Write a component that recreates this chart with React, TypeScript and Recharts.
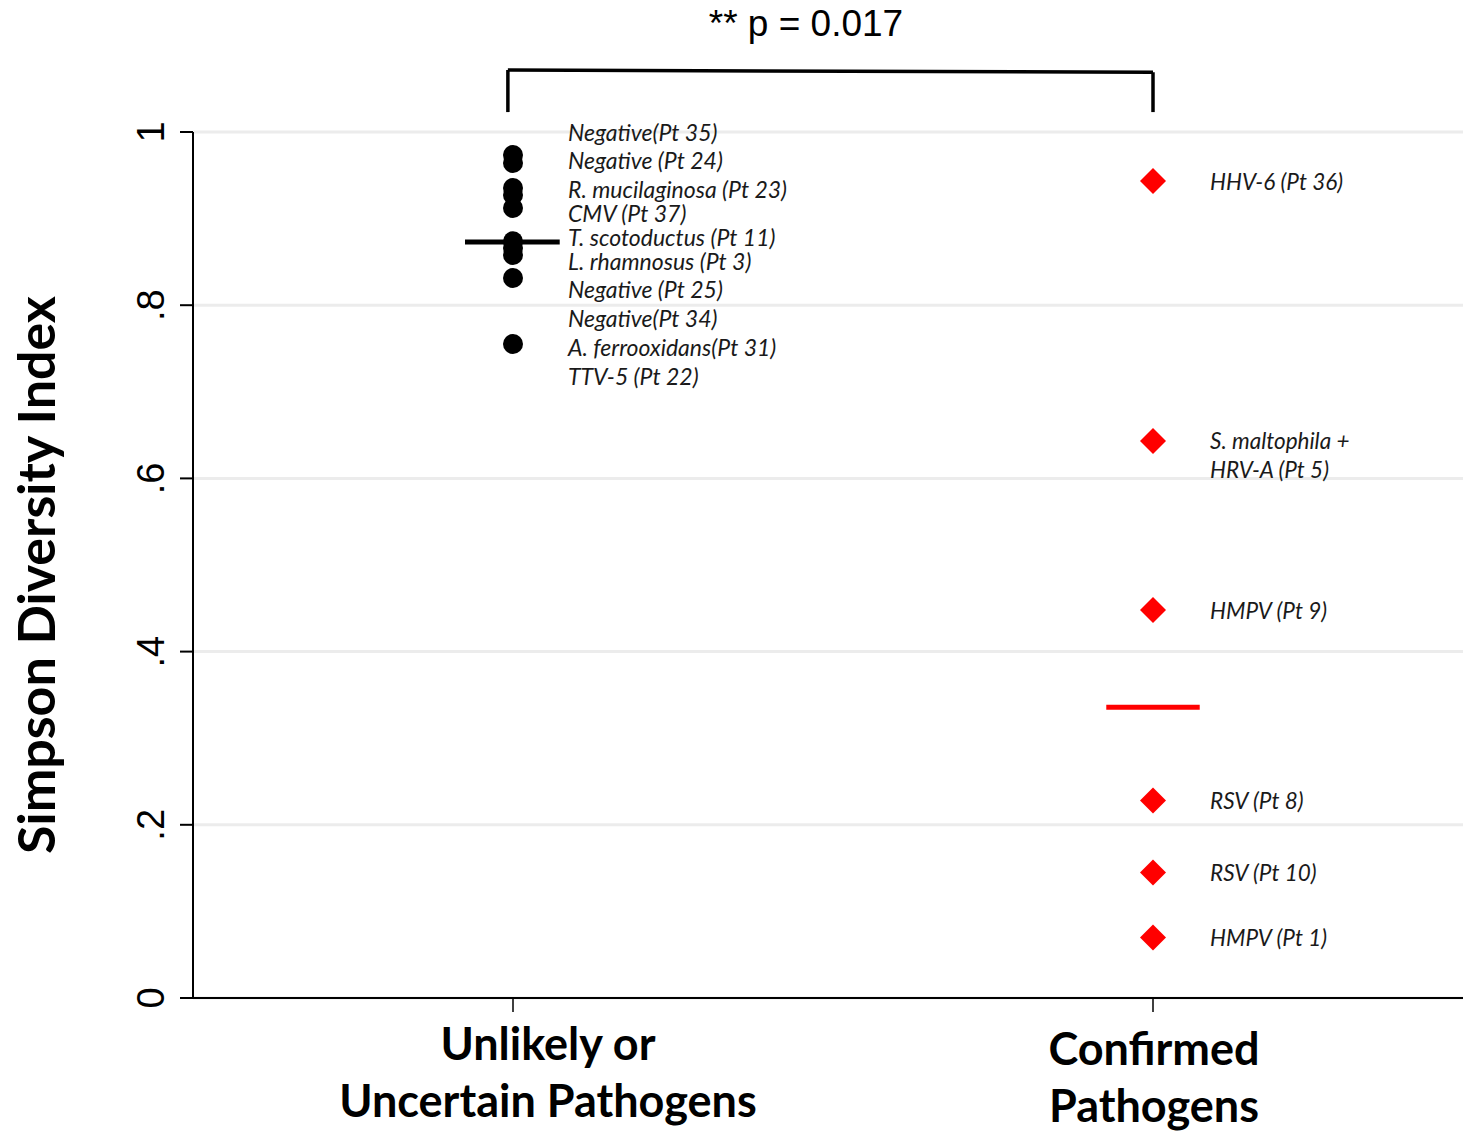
import React from "react";
import {
  ScatterChart,
  Scatter,
  XAxis,
  YAxis,
  CartesianGrid,
  ReferenceLine,
} from "recharts";

// ---- data ----
const categoryTicks = [1, 2];
const categoryLabels = [
  ["Unlikely or", "Uncertain Pathogens"],
  ["Confirmed", "Pathogens"],
];

const yTicks = [0, 0.2, 0.4, 0.6, 0.8, 1];
const yTickLabels = ["0", ".2", ".4", ".6", ".8", "1"];

const unlikelyValues = [0.9734, 0.9642, 0.9353, 0.9273, 0.9122, 0.8738, 0.866, 0.858, 0.8314, 0.7552];
const unlikelyLabels = [
  "Negative(Pt 35)",
  "Negative (Pt 24)",
  "R. mucilaginosa (Pt 23)",
  "CMV (Pt 37)",
  "T. scotoductus (Pt 11)",
  "L. rhamnosus (Pt 3)",
  "Negative (Pt 25)",
  "Negative(Pt 34)",
  "A. ferrooxidans(Pt 31)",
  "TTV-5 (Pt 22)",
];
const unlikelyLabelAnchors = [1.0, 0.9677, 0.9342, 0.9065, 0.8788, 0.851, 0.8187, 0.7852, 0.7517, 0.7182];

const confirmedValues = [0.9434, 0.6432, 0.448, 0.2281, 0.1449, 0.0699];
const confirmedLabels = [
  ["HHV-6 (Pt 36)"],
  ["S. maltophila +", "HRV-A (Pt 5)"],
  ["HMPV (Pt 9)"],
  ["RSV (Pt 8)"],
  ["RSV (Pt 10)"],
  ["HMPV (Pt 1)"],
];

const medians = [0.873, 0.3357];
const pValueText = "** p = 0.017";
const yAxisTitle = "Simpson Diversity Index";

// ---- derived tables ----
const unlikelyData = unlikelyValues.map((y) => ({ x: categoryTicks[0], y }));
const unlikelyLabelData = unlikelyLabelAnchors.map((y, i) => ({ x: categoryTicks[0], y, label: unlikelyLabels[i] }));
const confirmedData = confirmedValues.map((y, i) => ({ x: categoryTicks[1], y, label: confirmedLabels[i] }));

const ANNOT_FONT = "Lato, 'Open Sans', sans-serif";

const BlackDot = (p: any) => <circle cx={p.cx} cy={p.cy} r={10} fill="#000" />;

const LeftLabel = (p: any) => (
  <text
    x={p.cx + 55}
    y={p.cy}
    dominantBaseline="central"
    fontFamily={ANNOT_FONT}
    fontStyle="italic"
    fontSize={23}
    fill="#1a1a1a"
  >
    {p.payload.label}
  </text>
);

const RedDiamond = (p: any) => {
  const h = 13;
  const lines: string[] = p.payload.label;
  return (
    <g>
      <polygon
        points={`${p.cx},${p.cy - h} ${p.cx + h},${p.cy} ${p.cx},${p.cy + h} ${p.cx - h},${p.cy}`}
        fill="#ff0000"
      />
      {lines.map((t, i) => (
        <text
          key={i}
          x={p.cx + 57}
          y={p.cy + i * 29}
          dominantBaseline="central"
          fontFamily={ANNOT_FONT}
          fontStyle="italic"
          fontSize={22.5}
          fill="#1a1a1a"
        >
          {t}
        </text>
      ))}
    </g>
  );
};

const YTick = (p: any) => {
  const idx = yTicks.indexOf(p.payload.value);
  const x = p.x - 14;
  return (
    <text
      x={x}
      y={p.y}
      transform={`rotate(-90, ${x}, ${p.y})`}
      textAnchor="middle"
      fontFamily="'Liberation Sans', Arial, sans-serif"
      fontSize={38}
      fill="#000"
    >
      {idx >= 0 ? yTickLabels[idx] : ""}
    </text>
  );
};

const XTick = (p: any) => {
  const idx = categoryTicks.indexOf(p.payload.value);
  if (idx < 0) return null;
  const dx = idx === 0 ? 35 : 1;
  const base = idx === 0 ? 1060 : 1065;
  return (
    <g>
      {categoryLabels[idx].map((t, i) => (
        <text
          key={i}
          x={p.x + dx}
          y={base + i * 57}
          textAnchor="middle"
          fontFamily="Lato, sans-serif"
          fontWeight="bold"
          fontSize={45}
          fill="#000"
        >
          {t}
        </text>
      ))}
    </g>
  );
};

const YTitle = () => (
  <text
    x={55}
    y={575}
    transform="rotate(-90, 55, 575)"
    textAnchor="middle"
    fontFamily="Lato, sans-serif"
    fontWeight="bold"
    fontSize={52}
    fill="#000"
  >
    {yAxisTitle}
  </text>
);

export default function App() {
  return (
    <div style={{ position: "fixed", left: 0, top: 0, width: 1463, height: 1132, background: "#fff" }}>
      <div
        style={{
          position: "absolute",
          left: 606,
          top: 5,
          width: 400,
          textAlign: "center",
          fontFamily: "'Liberation Sans', Arial, sans-serif",
          fontSize: 37,
          lineHeight: "37px",
          color: "#000",
          zIndex: 2,
        }}
      >
        {pValueText}
      </div>
      <ScatterChart width={1463} height={1132} margin={{ top: 132, right: 0, bottom: 0, left: 0 }}>
        <CartesianGrid horizontal vertical={false} stroke="#ececec" strokeWidth={3} />
        <XAxis
          type="number"
          dataKey="x"
          domain={[0.5, 2.484375]}
          ticks={categoryTicks}
          height={134}
          tickSize={14}
          axisLine={{ stroke: "#000", strokeWidth: 2 }}
          tickLine={{ stroke: "#000", strokeWidth: 1.5 }}
          tick={<XTick />}
          interval={0}
        />
        <YAxis
          type="number"
          dataKey="y"
          domain={[0, 1]}
          ticks={yTicks}
          width={193}
          tickSize={13}
          axisLine={{ stroke: "#000", strokeWidth: 2 }}
          tickLine={{ stroke: "#000", strokeWidth: 2 }}
          tick={<YTick />}
          interval={0}
          label={<YTitle />}
        />
        <ReferenceLine
          segment={[{ x: 0.992, y: 1.023 }, { x: 0.992, y: 1.0716 }]}
          stroke="#000"
          strokeWidth={3.5}
          ifOverflow="visible"
        />
        <ReferenceLine
          segment={[{ x: 0.992, y: 1.0716 }, { x: 2.0, y: 1.069 }]}
          stroke="#000"
          strokeWidth={3.5}
          ifOverflow="visible"
        />
        <ReferenceLine
          segment={[{ x: 2.0, y: 1.069 }, { x: 2.0, y: 1.023 }]}
          stroke="#000"
          strokeWidth={3.5}
          ifOverflow="visible"
        />
        <ReferenceLine
          segment={[{ x: 0.925, y: medians[0] }, { x: 1.073, y: medians[0] }]}
          stroke="#000"
          strokeWidth={5}
          ifOverflow="visible"
        />
        <ReferenceLine
          segment={[{ x: 1.927, y: medians[1] }, { x: 2.073, y: medians[1] }]}
          stroke="#ff0000"
          strokeWidth={5}
          ifOverflow="visible"
        />
        <Scatter data={unlikelyData} shape={<BlackDot />} isAnimationActive={false} />
        <Scatter data={unlikelyLabelData} shape={<LeftLabel />} isAnimationActive={false} />
        <Scatter data={confirmedData} shape={<RedDiamond />} isAnimationActive={false} />
      </ScatterChart>
    </div>
  );
}
